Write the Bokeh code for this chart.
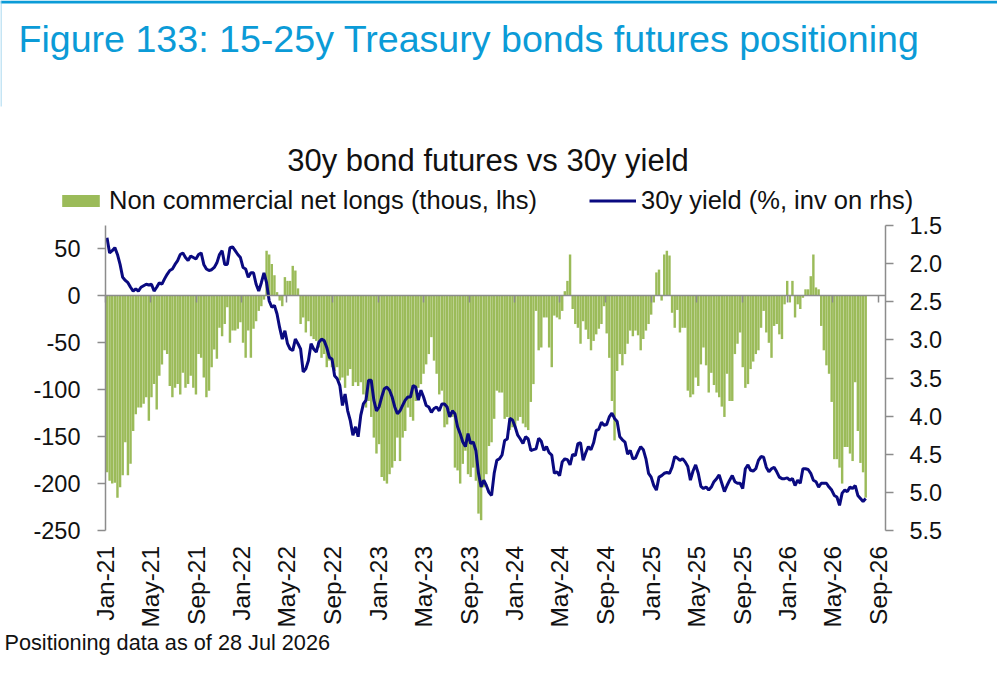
import math

import pandas as pd
from bokeh.embed import file_html
from bokeh.models import (BoxAnnotation, ColumnDataSource, DatetimeTickFormatter, FixedTicker,
                          Label, Legend, LegendItem, LinearAxis, NumeralTickFormatter, Range1d)
from bokeh.plotting import figure
from bokeh.resources import INLINE

# weekly CFTC reports, first one on 5 Jan 2021, last one 28 Jul 2026
FIRST_REPORT = "2021-01-05"

# non commercial net longs, thousands of contracts (lhs)
NET_LONGS = [
    -188, -197, -200, -199, -215, -204, -191, -156, -191, -179,
    -144, -126, -119, -119, -115, -108, -133, -108, -94, -121,
    -85, -73, -58, -62, -96, -108, -98, -94, -105, -82,
    -98, -94, -85, -98, -105, -62, -66, -87, -108, -101,
    -76, -57, -67, -34, -43, -30, -12, -50, -37, -37,
    -35, -28, -50, -66, -37, -66, -35, -27, -16, -11,
    -4, 48, 44, 34, 22, 4, -5, -11, 20, 16,
    16, 32, 27, 8, -30, -23, -39, -27, -43, -46,
    -48, -55, -66, -62, -76, -69, -76, -80, -76, -90,
    -87, -98, -85, -78, -96, -92, -96, -92, -105, -119,
    -112, -129, -151, -168, -158, -193, -197, -200, -190, -183,
    -176, -151, -176, -151, -144, -119, -129, -133, -112, -98,
    -94, -83, -73, -62, -44, -69, -83, -105, -101, -140,
    -137, -122, -129, -183, -186, -200, -179, -165, -190, -193,
    -183, -197, -232, -239, -204, -190, -160, -156, -131, -101,
    -103, -103, -131, -129, -143, -140, -140, -133, -129, -136,
    -140, -143, -113, -94, -16, -58, -55, -23, -23, -55,
    -76, -21, -23, -25, -16, 5, 16, 44, -14, -30,
    -34, -51, -27, -36, -46, -58, -48, -41, -35, -30,
    -11, -40, -66, -112, -154, -80, -62, -74, -62, -51,
    -37, -43, -37, -42, -58, -46, -37, -30, -20, -7,
    25, 28, -5, 44, 48, 43, -18, -34, -15, -39,
    -34, -34, -101, -108, -105, -87, -96, -73, -55, -74,
    -103, -82, -95, -103, -108, -118, -129, -83, -112, -112,
    -62, -51, -39, -76, -98, -94, -78, -70, -62, -58,
    -34, -16, -39, -50, -66, -32, -30, -41, -46, -9,
    16, -7, 16, -23, -9, -14, -2, 7, 7, 21,
    44, 9, 7, -32, -58, -74, -83, -113, -174, -174,
    -183, -200, -161, -161, -168, -176, -92, -144, -178, -188,
    -215,
]

# 30y UST yield, % (rhs, inverted)
YIELD_30Y = [
    1.66, 1.86, 1.83, 1.79, 1.88, 2.01, 2.18, 2.22, 2.25, 2.31,
    2.36, 2.33, 2.36, 2.31, 2.29, 2.27, 2.28, 2.27, 2.36, 2.31,
    2.25, 2.27, 2.20, 2.14, 2.09, 2.07, 2.01, 1.96, 1.88, 1.86,
    1.92, 1.96, 1.90, 1.92, 1.94, 1.88, 1.86, 2.01, 2.07, 2.09,
    2.08, 2.05, 1.99, 1.88, 1.83, 2.01, 2.01, 1.79, 1.78, 1.83,
    1.88, 1.92, 2.05, 2.07, 2.18, 2.12, 2.12, 2.27, 2.36, 2.25,
    2.12, 2.25, 2.49, 2.57, 2.55, 2.66, 2.84, 2.99, 2.88, 3.05,
    3.12, 3.14, 2.99, 3.05, 3.12, 3.42, 3.38, 3.27, 3.05, 3.12,
    3.16, 3.03, 2.99, 3.01, 3.10, 3.23, 3.25, 3.47, 3.51, 3.60,
    3.86, 3.71, 3.93, 4.06, 4.25, 4.14, 4.27, 3.99, 3.84, 3.79,
    3.53, 3.53, 3.79, 3.93, 3.88, 3.75, 3.64, 3.62, 3.66, 3.75,
    3.88, 3.97, 3.93, 3.86, 3.79, 3.75, 3.75, 3.60, 3.62, 3.79,
    3.66, 3.75, 3.86, 3.88, 3.95, 3.90, 3.88, 3.93, 3.84, 3.84,
    3.88, 4.01, 3.93, 3.97, 4.14, 4.23, 4.34, 4.40, 4.23, 4.36,
    4.34, 4.45, 4.75, 4.93, 4.84, 4.91, 5.00, 5.04, 4.75, 4.58,
    4.56, 4.51, 4.32, 4.30, 4.03, 4.05, 4.14, 4.25, 4.30, 4.36,
    4.27, 4.30, 4.45, 4.44, 4.43, 4.29, 4.33, 4.45, 4.40, 4.48,
    4.51, 4.75, 4.73, 4.78, 4.60, 4.56, 4.57, 4.64, 4.50, 4.52,
    4.36, 4.35, 4.58, 4.48, 4.40, 4.44, 4.35, 4.19, 4.17, 4.08,
    4.12, 4.11, 4.01, 3.96, 4.03, 4.07, 4.27, 4.31, 4.34, 4.50,
    4.45, 4.56, 4.55, 4.47, 4.40, 4.44, 4.56, 4.75, 4.80, 4.91,
    4.97, 4.80, 4.78, 4.75, 4.74, 4.75, 4.67, 4.53, 4.55, 4.58,
    4.56, 4.60, 4.66, 4.84, 4.72, 4.64, 4.75, 4.92, 4.95, 4.93,
    4.97, 4.93, 4.86, 4.82, 4.77, 4.88, 4.99, 4.91, 4.84, 4.78,
    4.86, 4.88, 4.88, 4.95, 4.69, 4.64, 4.71, 4.72, 4.69, 4.58,
    4.53, 4.54, 4.67, 4.73, 4.69, 4.67, 4.73, 4.80, 4.82, 4.82,
    4.81, 4.84, 4.82, 4.91, 4.84, 4.88, 4.69, 4.69, 4.70, 4.75,
    4.84, 4.86, 4.93, 4.88, 4.88, 4.88, 4.93, 4.97, 5.04, 5.06,
    5.17, 5.01, 4.97, 4.99, 4.93, 4.95, 4.91, 5.04, 5.08, 5.12,
    5.08,
]

TICK_YEARS = [2021, 2022, 2023, 2024, 2025, 2026]
TICK_MONTHS = [1, 5, 9]
LHS_TICKS = [-250, -200, -150, -100, -50, 0, 50]
RHS_TICKS = [1.5, 2.0, 2.5, 3.0, 3.5, 4.0, 4.5, 5.0, 5.5]
LHS_LIMITS = (-250, 75)
RHS_LIMITS = (1.5, 5.5)
X_LIMITS = ("2021-01-01", "2026-09-19")

FONT = "Liberation Sans"
GREEN = "#9BBB59"
NAVY = "#0A0A80"
GREY = "#8C8C8C"
BLUE = "#0B9BD7"
INK = "#111111"
DAY_MS = 86400000

# canvas and where the plot area sits on it (pixels from top-left)
W, H = 997, 670
AREA_L, AREA_R, AREA_T, AREA_B = 105, 885, 225, 530

dates = pd.date_range(FIRST_REPORT, periods=len(NET_LONGS), freq="7D")
src = ColumnDataSource(data=dict(date=dates, longs=NET_LONGS, yld=YIELD_30Y))

tick_ms = [pd.Timestamp(year=y, month=m, day=1).value // 10**6
           for y in TICK_YEARS for m in TICK_MONTHS]

# the frame covers the whole canvas, so the ranges are widened past the plot area
x0_ms = pd.Timestamp(X_LIMITS[0]).value // 10**6
x1_ms = pd.Timestamp(X_LIMITS[1]).value // 10**6
ms_per_px = (x1_ms - x0_ms) / (AREA_R - AREA_L)
lhs_per_px = (LHS_LIMITS[1] - LHS_LIMITS[0]) / (AREA_B - AREA_T)
rhs_per_px = (RHS_LIMITS[1] - RHS_LIMITS[0]) / (AREA_B - AREA_T)

p = figure(x_axis_type="datetime", frame_width=W, frame_height=H, min_border=0,
           x_range=Range1d(x0_ms - AREA_L * ms_per_px, x1_ms + (W - AREA_R) * ms_per_px),
           y_range=Range1d(LHS_LIMITS[0] - (H - AREA_B) * lhs_per_px,
                           LHS_LIMITS[1] + AREA_T * lhs_per_px),
           output_backend="svg", toolbar_location=None, tools="")
p.extra_y_ranges = {"yld": Range1d(RHS_LIMITS[1] + (H - AREA_B) * rhs_per_px,
                                   RHS_LIMITS[0] - AREA_T * rhs_per_px)}
p.xgrid.visible = False
p.ygrid.visible = False
p.outline_line_color = None
p.background_fill_color = "white"
p.border_fill_color = "white"

# x axis sits on the zero line, its labels hang below the plot area
xa = p.xaxis[0]
xa.fixed_location = 0
xa.bounds = (x0_ms, x1_ms)
xa.ticker = FixedTicker(ticks=tick_ms)
xa.formatter = DatetimeTickFormatter(years="%b-%y", months="%b-%y", days="%b-%y")
xa.major_label_orientation = math.pi / 2
xa.axis_line_color = GREY
xa.axis_line_width = 1.5
xa.major_tick_line_color = GREY
xa.major_tick_line_width = 1.5
xa.major_tick_out = 7
xa.major_tick_in = 0
xa.minor_tick_line_color = None
xa.major_label_standoff = 243
xa.major_label_text_font = FONT
xa.major_label_text_font_size = "24.5px"
xa.major_label_text_color = INK

ya = p.yaxis[0]
ya.fixed_location = x0_ms
ya.bounds = LHS_LIMITS
ya.ticker = FixedTicker(ticks=LHS_TICKS)
ya.formatter = NumeralTickFormatter(format="0")
ya.axis_line_color = GREY
ya.axis_line_width = 1.5
ya.major_tick_line_color = GREY
ya.major_tick_line_width = 1.5
ya.major_tick_out = 8
ya.major_tick_in = 0
ya.minor_tick_line_color = None
ya.major_label_standoff = 17
ya.major_label_text_font = FONT
ya.major_label_text_font_size = "23.5px"
ya.major_label_text_color = INK

ra = LinearAxis(y_range_name="yld", fixed_location=x1_ms, bounds=RHS_LIMITS,
                ticker=FixedTicker(ticks=RHS_TICKS),
                formatter=NumeralTickFormatter(format="0.0"),
                axis_line_color=GREY, axis_line_width=1.5,
                major_tick_line_color=GREY, major_tick_line_width=1.5,
                major_tick_out=8, major_tick_in=0, minor_tick_line_color=None,
                major_label_standoff=16, major_label_text_font=FONT,
                major_label_text_font_size="23.5px", major_label_text_color=INK)
p.add_layout(ra, "right")

bars = p.vbar(x="date", top="longs", bottom=0, width=6.5 * DAY_MS, source=src,
              fill_color=GREEN, line_color=None)
ln = p.line(x="date", y="yld", y_range_name="yld", source=src,
            line_color=NAVY, line_width=3)

leg = Legend(items=[LegendItem(label="Non commercial net longs (thous, lhs)", renderers=[bars]),
                    LegendItem(label="30y yield (%, inv on rhs)", renderers=[ln])],
             orientation="horizontal", location=(57, H - 215),
             glyph_width=47, glyph_height=15, label_standoff=5, spacing=52,
             padding=0, margin=0, border_line_color=None, background_fill_alpha=0,
             label_text_font=FONT, label_text_font_size="25.5px", label_text_color=INK)
p.add_layout(leg)

p.add_layout(Label(x=18, y=H - 38, x_units="screen", y_units="screen",
                   text="Figure 133: 15-25y Treasury bonds futures positioning",
                   text_font=FONT, text_font_size="37.6px", text_color=BLUE,
                   text_baseline="alphabetic"))
p.add_layout(Label(x=487.5, y=H - 160, x_units="screen", y_units="screen",
                   text="30y bond futures vs 30y yield",
                   text_font=FONT, text_font_size="31px", text_color=INK,
                   text_align="center", text_baseline="alphabetic"))
p.add_layout(Label(x=4, y=H - 642, x_units="screen", y_units="screen",
                   text="Positioning data as of 28 Jul 2026",
                   text_font=FONT, text_font_size="21.7px", text_color=INK,
                   text_baseline="alphabetic"))

# blue rule along the top and a thin one down the left of the header
p.add_layout(BoxAnnotation(left=0, right=1000, bottom=H - 3, top=H,
                           left_units="screen", right_units="screen",
                           bottom_units="screen", top_units="screen",
                           fill_color=BLUE, fill_alpha=1, line_color=None))
p.add_layout(BoxAnnotation(left=0, right=1, bottom=H - 106, top=H,
                           left_units="screen", right_units="screen",
                           bottom_units="screen", top_units="screen",
                           fill_color="#8CCBEA", fill_alpha=1, line_color=None))

open("out.html", "w").write(file_html(p, INLINE))
